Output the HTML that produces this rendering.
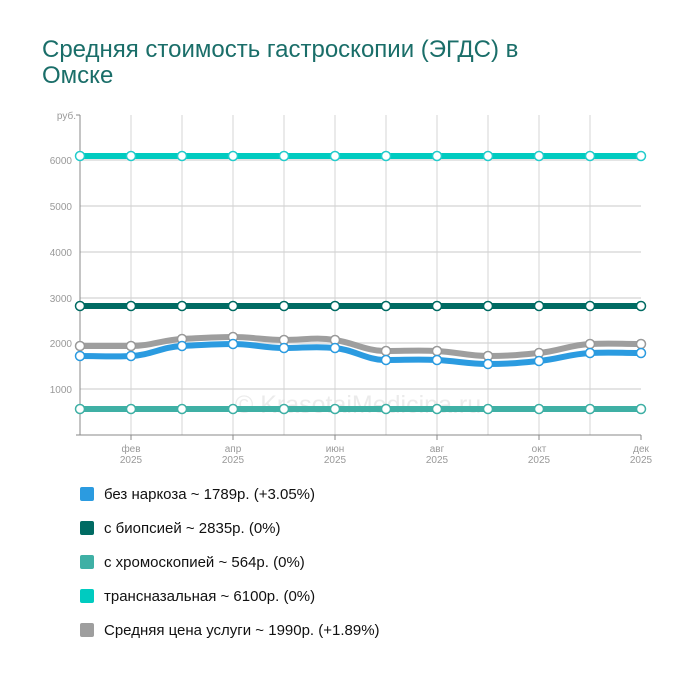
<!DOCTYPE html>
<html><head><meta charset="utf-8"><style>
body{margin:0;background:#fff;width:700px;height:680px;overflow:hidden;font-family:"Liberation Sans",sans-serif}
h1{position:absolute;left:42px;top:37px;margin:0;font-weight:normal;font-size:24px;line-height:26px;color:#1a6e69;width:490px}
.lg{position:absolute;left:80px;font-size:15px;color:#111}
.lg i{display:inline-block;width:14px;height:14px;margin-right:10px;vertical-align:-2px;border-radius:2px}
</style></head><body>
<h1>Средняя стоимость гастроскопии (ЭГДС) в Омске</h1>
<svg width="700" height="680" style="position:absolute;left:0;top:0">
<g stroke="#e4e4e4" stroke-width="2">
<line x1="80" x2="641" y1="160" y2="160"/><line x1="80" x2="641" y1="206" y2="206"/><line x1="80" x2="641" y1="252" y2="252"/><line x1="80" x2="641" y1="298" y2="298"/><line x1="80" x2="641" y1="343" y2="343"/><line x1="80" x2="641" y1="389" y2="389"/>
</g>
<g stroke="#d4d4d4" stroke-width="1">
<line x1="131" x2="131" y1="115" y2="435"/><line x1="182" x2="182" y1="115" y2="435"/><line x1="233" x2="233" y1="115" y2="435"/><line x1="284" x2="284" y1="115" y2="435"/><line x1="335" x2="335" y1="115" y2="435"/><line x1="386" x2="386" y1="115" y2="435"/><line x1="437" x2="437" y1="115" y2="435"/><line x1="488" x2="488" y1="115" y2="435"/><line x1="539" x2="539" y1="115" y2="435"/><line x1="590" x2="590" y1="115" y2="435"/>
</g>
<g stroke="#888" stroke-width="1">
<line x1="80" x2="80" y1="115" y2="435"/><line x1="76" x2="641" y1="435" y2="435"/>
<line x1="76" x2="80" y1="115" y2="115"/>
<line x1="131" x2="131" y1="435" y2="440"/><line x1="233" x2="233" y1="435" y2="440"/><line x1="335" x2="335" y1="435" y2="440"/><line x1="437" x2="437" y1="435" y2="440"/><line x1="539" x2="539" y1="435" y2="440"/><line x1="641" x2="641" y1="435" y2="440"/>
</g>
<g font-size="10" fill="#999" text-anchor="end">
<text x="76" y="119">руб.</text><text x="72" y="164">6000</text><text x="72" y="210">5000</text><text x="72" y="256">4000</text><text x="72" y="302">3000</text><text x="72" y="347">2000</text><text x="72" y="393">1000</text>
</g>
<g font-size="10" fill="#999" text-anchor="middle">
<text x="131" y="452">фев</text><text x="131" y="463">2025</text>
<text x="233" y="452">апр</text><text x="233" y="463">2025</text>
<text x="335" y="452">июн</text><text x="335" y="463">2025</text>
<text x="437" y="452">авг</text><text x="437" y="463">2025</text>
<text x="539" y="452">окт</text><text x="539" y="463">2025</text>
<text x="641" y="452">дек</text><text x="641" y="463">2025</text>
</g>
<text x="358" y="413" font-size="25" fill="#ddd" fill-opacity="0.6" text-anchor="middle">© KrasotaiMedicina.ru</text>
<g fill="none" stroke-width="6" stroke-linejoin="round">
<path stroke="#00cbc0" d="M80 156H641"/>
<path stroke="#006b63" d="M80 306H641"/>
<path stroke="#3fb0a5" d="M80 409H641"/>
<path stroke="#9e9e9e" d="M80 346C100 346 111 346 131 346C151 346 162 340 182 339C202 338 213 337 233 337C253 337 264 340 284 340C304 340 315 337 335 340C355 343 366 351 386 351C406 351 417 350 437 351C457 352 468 356 488 356C508 356 519 355 539 353C559 351 570 345 590 344C610 343 621 344 641 344"/>
<path stroke="#2b9be0" d="M80 356C100 356 111 357 131 356C151 355 162 347 182 346C202 345 213 344 233 344C253 344 264 348 284 348C304 348 315 346 335 348C355 350 366 360 386 360C406 360 417 359 437 360C457 361 468 364 488 364C508 364 519 363 539 361C559 359 570 354 590 353C610 352 621 353 641 353"/>
</g>
<g fill="#fff" stroke-width="1.5">
<g stroke="#2cc">
<circle cx="80" cy="156" r="4.5"/><circle cx="131" cy="156" r="4.5"/><circle cx="182" cy="156" r="4.5"/><circle cx="233" cy="156" r="4.5"/><circle cx="284" cy="156" r="4.5"/><circle cx="335" cy="156" r="4.5"/><circle cx="386" cy="156" r="4.5"/><circle cx="437" cy="156" r="4.5"/><circle cx="488" cy="156" r="4.5"/><circle cx="539" cy="156" r="4.5"/><circle cx="590" cy="156" r="4.5"/><circle cx="641" cy="156" r="4.5"/>
</g>
<g stroke="#006b63">
<circle cx="80" cy="306" r="4.5"/><circle cx="131" cy="306" r="4.5"/><circle cx="182" cy="306" r="4.5"/><circle cx="233" cy="306" r="4.5"/><circle cx="284" cy="306" r="4.5"/><circle cx="335" cy="306" r="4.5"/><circle cx="386" cy="306" r="4.5"/><circle cx="437" cy="306" r="4.5"/><circle cx="488" cy="306" r="4.5"/><circle cx="539" cy="306" r="4.5"/><circle cx="590" cy="306" r="4.5"/><circle cx="641" cy="306" r="4.5"/>
</g>
<g stroke="#3fb0a5">
<circle cx="80" cy="409" r="4.5"/><circle cx="131" cy="409" r="4.5"/><circle cx="182" cy="409" r="4.5"/><circle cx="233" cy="409" r="4.5"/><circle cx="284" cy="409" r="4.5"/><circle cx="335" cy="409" r="4.5"/><circle cx="386" cy="409" r="4.5"/><circle cx="437" cy="409" r="4.5"/><circle cx="488" cy="409" r="4.5"/><circle cx="539" cy="409" r="4.5"/><circle cx="590" cy="409" r="4.5"/><circle cx="641" cy="409" r="4.5"/>
</g>
<g stroke="#999">
<circle cx="80" cy="346" r="4.5"/><circle cx="131" cy="346" r="4.5"/><circle cx="182" cy="339" r="4.5"/><circle cx="233" cy="337" r="4.5"/><circle cx="284" cy="340" r="4.5"/><circle cx="335" cy="340" r="4.5"/><circle cx="386" cy="351" r="4.5"/><circle cx="437" cy="351" r="4.5"/><circle cx="488" cy="356" r="4.5"/><circle cx="539" cy="353" r="4.5"/><circle cx="590" cy="344" r="4.5"/><circle cx="641" cy="344" r="4.5"/>
</g>
<g stroke="#2b9be0">
<circle cx="80" cy="356" r="4.5"/><circle cx="131" cy="356" r="4.5"/><circle cx="182" cy="346" r="4.5"/><circle cx="233" cy="344" r="4.5"/><circle cx="284" cy="348" r="4.5"/><circle cx="335" cy="348" r="4.5"/><circle cx="386" cy="360" r="4.5"/><circle cx="437" cy="360" r="4.5"/><circle cx="488" cy="364" r="4.5"/><circle cx="539" cy="361" r="4.5"/><circle cx="590" cy="353" r="4.5"/><circle cx="641" cy="353" r="4.5"/>
</g>
</g>
</svg>
<div class="lg" style="top:486px"><i style="background:#2b9be0"></i>без наркоза ~ 1789р. (+3.05%)</div>
<div class="lg" style="top:520px"><i style="background:#006b63"></i>с биопсией ~ 2835р. (0%)</div>
<div class="lg" style="top:554px"><i style="background:#3fb0a5"></i>с хромоскопией ~ 564р. (0%)</div>
<div class="lg" style="top:588px"><i style="background:#00cbc0"></i>трансназальная ~ 6100р. (0%)</div>
<div class="lg" style="top:622px"><i style="background:#9e9e9e"></i>Средняя цена услуги ~ 1990р. (+1.89%)</div>
</body></html>
